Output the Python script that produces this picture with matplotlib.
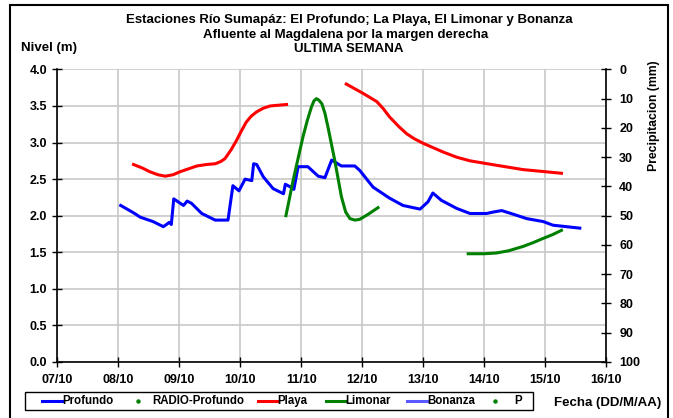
import matplotlib
matplotlib.use("Agg")
import matplotlib.pyplot as plt
from matplotlib.lines import Line2D
from matplotlib.patches import Rectangle

plt.rcParams['font.family'] = ['Liberation Sans', 'DejaVu Sans']
plt.rcParams['font.weight'] = 'bold'

# ---- data (x = day of October, y = level in m) ----
profundo_x = [8.04, 8.25, 8.36, 8.57, 8.74, 8.84, 8.87, 8.91, 9.07, 9.13, 9.20, 9.37, 9.59, 9.80,
              9.88, 9.98, 10.08, 10.19, 10.22, 10.27, 10.38, 10.54, 10.71, 10.74, 10.83, 10.88,
              10.95, 11.11, 11.28, 11.39, 11.50, 11.66, 11.88, 11.96, 12.18, 12.45, 12.67, 12.95,
              13.08, 13.16, 13.30, 13.55, 13.77, 14.04, 14.15, 14.29, 14.48, 14.70, 14.97, 15.13,
              15.35, 15.57]
profundo_y = [2.14, 2.04, 1.98, 1.92, 1.85, 1.91, 1.88, 2.23, 2.14, 2.20, 2.17, 2.03, 1.94, 1.94,
              2.41, 2.34, 2.50, 2.48, 2.71, 2.70, 2.53, 2.37, 2.30, 2.43, 2.39, 2.36,
              2.67, 2.67, 2.54, 2.52, 2.76, 2.68, 2.68, 2.62, 2.39, 2.24, 2.14, 2.09,
              2.19, 2.31, 2.21, 2.10, 2.03, 2.03, 2.05, 2.07, 2.02, 1.96, 1.92, 1.87,
              1.85, 1.83]

playa1_x = [8.25, 8.40, 8.52, 8.65, 8.77, 8.90, 9.01, 9.15, 9.29, 9.45, 9.59, 9.68, 9.75, 9.85,
            9.94, 10.02, 10.10, 10.18, 10.27, 10.38, 10.49, 10.62, 10.76]
playa1_y = [2.70, 2.65, 2.60, 2.56, 2.54, 2.56, 2.60, 2.64, 2.68, 2.70, 2.71, 2.74, 2.78, 2.90,
            3.03, 3.16, 3.28, 3.36, 3.42, 3.47, 3.50, 3.51, 3.52]
playa2_x = [11.74, 12.02, 12.24, 12.35, 12.45, 12.60, 12.73, 12.86, 13.00, 13.33, 13.55, 13.77,
            14.20, 14.64, 15.27]
playa2_y = [3.80, 3.67, 3.56, 3.46, 3.35, 3.22, 3.12, 3.05, 2.99, 2.87, 2.80, 2.75,
            2.69, 2.63, 2.58]

limonar1_x = [10.75, 10.87, 11.03, 11.10, 11.17, 11.21, 11.25, 11.29, 11.34, 11.39, 11.44, 11.55,
              11.66, 11.73, 11.80, 11.88, 11.96, 12.10, 12.26]
limonar1_y = [2.00, 2.49, 3.08, 3.30, 3.49, 3.57, 3.60, 3.58, 3.53, 3.40, 3.21, 2.76,
              2.26, 2.05, 1.96, 1.94, 1.95, 2.02, 2.11]
limonar2_x = [13.74, 14.00, 14.20, 14.40, 14.64, 14.80, 14.97, 15.12, 15.27]
limonar2_y = [1.48, 1.48, 1.49, 1.52, 1.58, 1.63, 1.69, 1.74, 1.80]

x_ticks = [7, 8, 9, 10, 11, 12, 13, 14, 15, 16]
x_labels = ['07/10', '08/10', '09/10', '10/10', '11/10', '12/10', '13/10', '14/10', '15/10', '16/10']
y_ticks = [0.0, 0.5, 1.0, 1.5, 2.0, 2.5, 3.0, 3.5, 4.0]
p_ticks = [0, 10, 20, 30, 40, 50, 60, 70, 80, 90, 100]

legend_labels = ['Profundo', 'RADIO-Profundo', 'Playa', 'Limonar', 'Bonanza', 'P']

W, H = 673, 418
fig = plt.figure(figsize=(W / 100, H / 100), dpi=100)


def fx(px):
    return px / W


def fy(py):
    return 1 - py / H


# outer border
fig.patches.append(Rectangle((fx(10), -0.01), 658 / W, 1 - 5 / H + 0.01, transform=fig.transFigure,
                             fill=False, edgecolor='black', linewidth=1.5))

ax = fig.add_axes([fx(57.3), fy(362), (606 - 57.3) / W, (362 - 69.4) / H])
ax.set_xlim(7, 16)
ax.set_ylim(0, 4)
ax.set_xticks(x_ticks)
ax.set_xticklabels(x_labels, fontweight='bold')
ax.set_yticks(y_ticks)
ax.set_yticklabels([f'{v:.1f}' for v in y_ticks], fontweight='bold')
ax.grid(True, color='#c8c8c8', linewidth=1.2)
ax.set_axisbelow(True)
for s in ['top', 'right']:
    ax.spines[s].set_visible(False)
ax.spines['left'].set_linewidth(1.2)
ax.spines['bottom'].set_linewidth(1.2)
ax.tick_params(axis='both', direction='inout', length=7, width=1.0, labelsize=9)
ax.tick_params(axis='x', pad=5)
ax.tick_params(axis='y', pad=4)

ax.plot(profundo_x, profundo_y, color='#0000ff', lw=2.2, solid_joinstyle='round')
ax.plot(playa1_x, playa1_y, color='#ff0000', lw=2.2)
ax.plot(playa2_x, playa2_y, color='#ff0000', lw=2.2)
ax.plot(limonar1_x, limonar1_y, color='#008000', lw=2.2)
ax.plot(limonar2_x, limonar2_y, color='#008000', lw=2.2)

ax2 = ax.twinx()
ax2.set_ylim(100, 0)
ax2.set_yticks(p_ticks)
ax2.set_yticklabels([str(v) for v in p_ticks], fontweight='bold')
for s in ['top', 'left', 'bottom']:
    ax2.spines[s].set_visible(False)
ax2.spines['right'].set_linewidth(1.2)
ax2.tick_params(axis='y', direction='inout', length=7, width=1.0, labelsize=9, pad=6)

# titles
tfs = 9.5
fig.text(fx(349), fy(20), 'Estaciones Río Sumapáz: El Profundo; La Playa, El Limonar y Bonanza',
         ha='center', va='center', fontsize=tfs, fontweight='bold')
fig.text(fx(346), fy(35), 'Afluente al Magdalena por la margen derecha',
         ha='center', va='center', fontsize=tfs, fontweight='bold')
fig.text(fx(349), fy(49), 'ULTIMA SEMANA', ha='center', va='center', fontsize=tfs, fontweight='bold')
fig.text(fx(21), fy(48), 'Nivel (m)', ha='left', va='center', fontsize=tfs, fontweight='bold')
fig.text(fx(654), fy(116), 'Precipitacion (mm)', ha='center', va='center', rotation=90,
         fontsize=8.8, fontweight='bold')
fig.text(fx(608), fy(403), 'Fecha (DD/M/AA)', ha='center', va='center', fontsize=tfs, fontweight='bold')

# legend (drawn manually to match the reference layout)
fig.patches.append(Rectangle((fx(25), fy(410)), (533 - 25) / W, (410 - 392) / H,
                             transform=fig.transFigure, fill=False, edgecolor='black', linewidth=1.0))
ly = fy(401)
leg_items = [
    ('line', '#0000ff', 42, 62),
    ('dot', '#008000', 138, 152),
    ('line', '#ff0000', 258, 277),
    ('line', '#008000', 326, 345),
    ('line', '#5a5aff', 407, 427),
    ('dot', '#008000', 495, 514),
]
for (kind, col, a, b), lab in zip(leg_items, legend_labels):
    if kind == 'line':
        fig.lines.append(Line2D([fx(a), fx(b)], [ly, ly], transform=fig.transFigure,
                                color=col, lw=2.2))
        tx = b
    else:
        fig.lines.append(Line2D([fx(a)], [ly], transform=fig.transFigure, color=col,
                                marker='o', markersize=2.2, lw=0))
        tx = b
    fig.text(fx(tx), ly, lab, ha='left', va='center', fontsize=8.3, fontweight='bold')

fig.savefig('out.png', dpi=100)
